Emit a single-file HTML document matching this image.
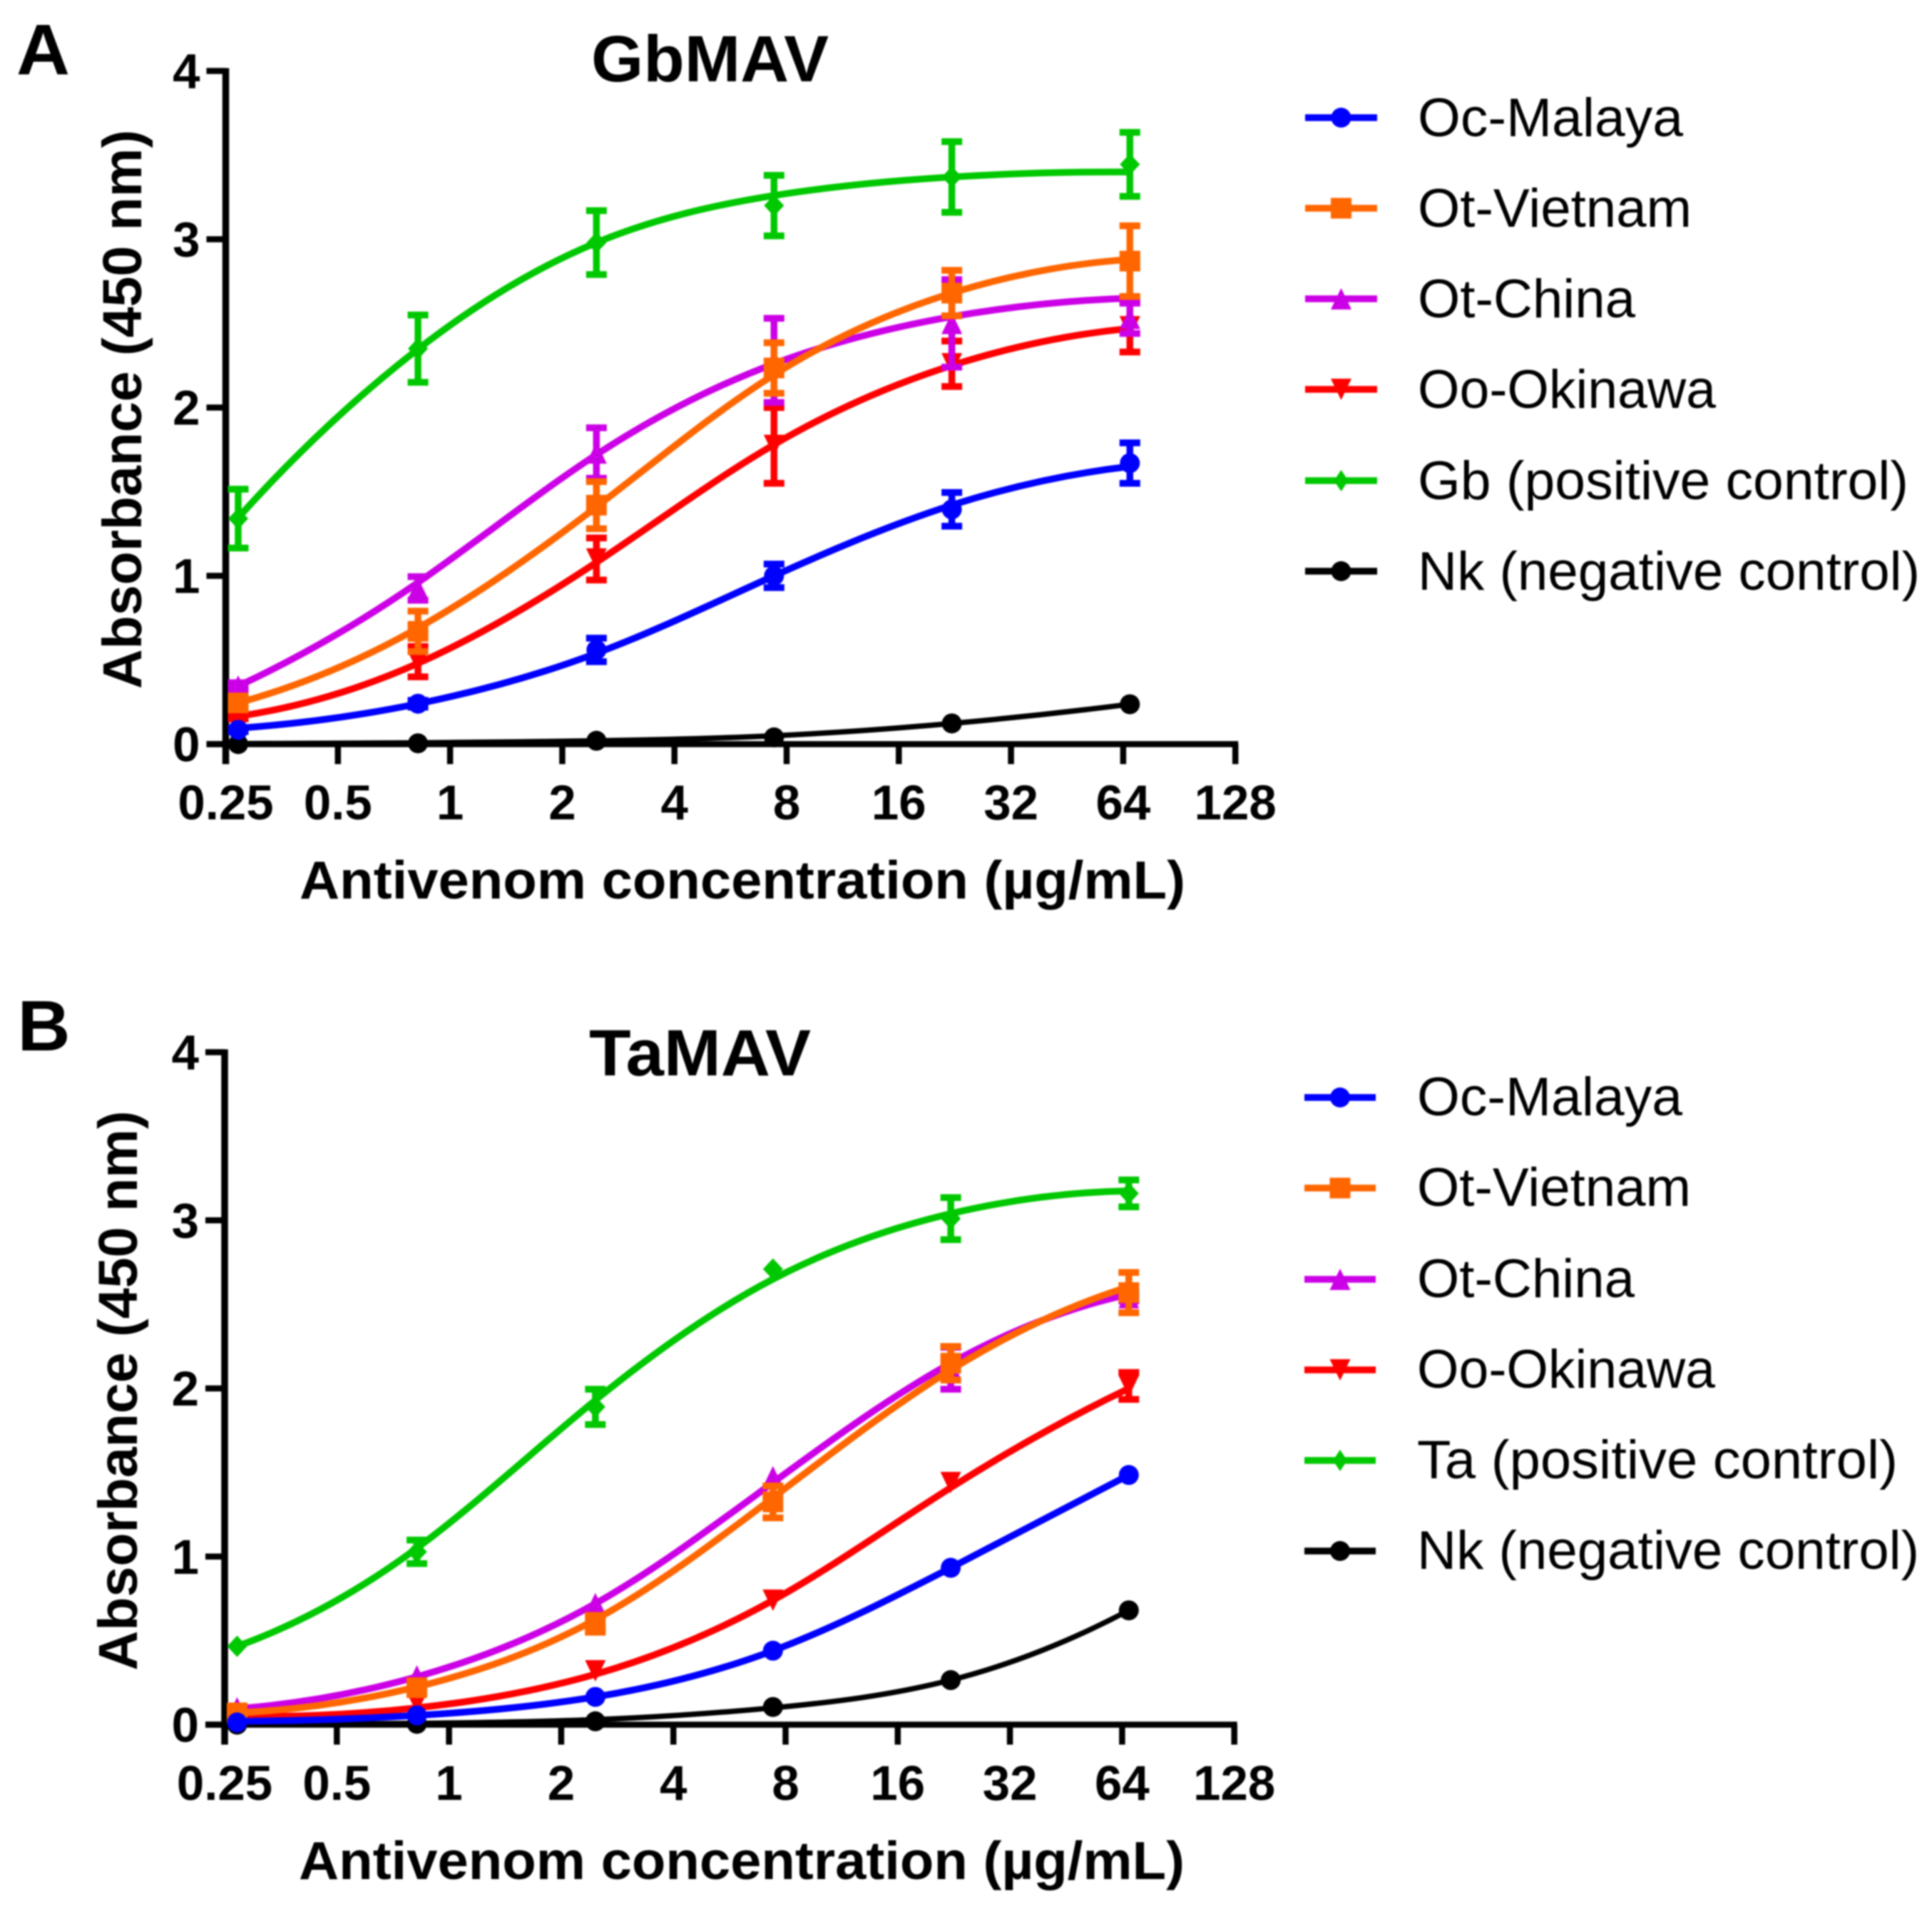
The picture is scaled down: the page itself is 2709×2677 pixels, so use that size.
<!DOCTYPE html>
<html lang="en">
<head>
<meta charset="utf-8">
<title>Antivenom binding to GbMAV and TaMAV</title>
<style>
  html, body { margin: 0; padding: 0; background: #fff; }
  svg { display: block; filter: blur(1px); font-family: "Liberation Sans", Arial, sans-serif; }
  .bold { font-weight: 700; fill: #000; }
  .leg { font-size: 76px; fill: #000; }
</style>
</head>
<body>
<svg id="figure" xmlns="http://www.w3.org/2000/svg" width="2709" height="2677" viewBox="0 0 2709 2677">
  <rect x="0" y="0" width="2709" height="2677" fill="#fff"/>

  <g id="panel-a">
    <text class="bold" x="23" y="104" font-size="100" textLength="75" lengthAdjust="spacingAndGlyphs">A</text>
    <text class="bold" x="829" y="114" font-size="92" textLength="333" lengthAdjust="spacingAndGlyphs">GbMAV</text>
    <text class="bold" transform="translate(198 574) rotate(-90)" text-anchor="middle" font-size="77" textLength="784" lengthAdjust="spacingAndGlyphs">Absorbance (450 nm)</text>
    <text class="bold" x="420" y="1260" font-size="75" textLength="1242" lengthAdjust="spacingAndGlyphs">Antivenom concentration (µg/mL)</text>
    <g>
      <text class="leg" x="1988" y="191" textLength="372" lengthAdjust="spacingAndGlyphs">Oc-Malaya</text>
      <text class="leg" x="1988" y="318" textLength="384" lengthAdjust="spacingAndGlyphs">Ot-Vietnam</text>
      <text class="leg" x="1988" y="445" textLength="305" lengthAdjust="spacingAndGlyphs">Ot-China</text>
      <text class="leg" x="1988" y="572" textLength="418" lengthAdjust="spacingAndGlyphs">Oo-Okinawa</text>
      <text class="leg" x="1988" y="700" textLength="688" lengthAdjust="spacingAndGlyphs">Gb (positive control)</text>
      <text class="leg" x="1988" y="827" textLength="704" lengthAdjust="spacingAndGlyphs">Nk (negative control)</text>
    </g>
  </g>

  <g id="panel-b">
    <text class="bold" x="24.5" y="1473" font-size="100" textLength="74" lengthAdjust="spacingAndGlyphs">B</text>
    <text class="bold" x="826" y="1508" font-size="92" textLength="311" lengthAdjust="spacingAndGlyphs">TaMAV</text>
    <text class="bold" transform="translate(192 1950) rotate(-90)" text-anchor="middle" font-size="77" textLength="785" lengthAdjust="spacingAndGlyphs">Absorbance (450 nm)</text>
    <text class="bold" x="419" y="2635" font-size="75" textLength="1242" lengthAdjust="spacingAndGlyphs">Antivenom concentration (µg/mL)</text>
    <g>
      <text class="leg" x="1987" y="1564" textLength="372" lengthAdjust="spacingAndGlyphs">Oc-Malaya</text>
      <text class="leg" x="1987" y="1691" textLength="384" lengthAdjust="spacingAndGlyphs">Ot-Vietnam</text>
      <text class="leg" x="1987" y="1819" textLength="305" lengthAdjust="spacingAndGlyphs">Ot-China</text>
      <text class="leg" x="1987" y="1946" textLength="418" lengthAdjust="spacingAndGlyphs">Oo-Okinawa</text>
      <text class="leg" x="1987" y="2073" textLength="674" lengthAdjust="spacingAndGlyphs">Ta (positive control)</text>
      <text class="leg" x="1987" y="2200" textLength="704" lengthAdjust="spacingAndGlyphs">Nk (negative control)</text>
    </g>
  </g>
</svg>

<script>
// ---- shared categories and tick labels ----
const concentrations = [0.27, 0.82, 2.47, 7.4, 22.2, 66.7];
const xTickLabels = ['0.25', '0.5', '1', '2', '4', '8', '16', '32', '64', '128'];
const xTickValues = [0.25, 0.5, 1, 2, 4, 8, 16, 32, 64, 128];
const yTickValues = [0, 1, 2, 3, 4];

// ---- Panel A (GbMAV) ----
const aOcMean = [0.085, 0.24, 0.56, 1.0, 1.395, 1.67];
const aOcFit  = [0.095, 0.24, 0.54, 1.0, 1.42, 1.65];
const aOcErr  = [0.01, 0.02, 0.07, 0.07, 0.10, 0.12];

const aVnMean = [0.245, 0.67, 1.42, 2.235, 2.68, 2.87];
const aVnFit  = [0.245, 0.69, 1.41, 2.195, 2.68, 2.88];
const aVnErr  = [0.03, 0.12, 0.14, 0.15, 0.135, 0.21];

const aCnMean = [0.345, 0.925, 1.73, 2.28, 2.5, 2.53];
const aCnFit  = [0.345, 0.96, 1.72, 2.26, 2.54, 2.65];
const aCnErr  = [0.02, 0.07, 0.15, 0.25, 0.26, 0.09];

const aOkMean = [0.17, 0.49, 1.1, 1.775, 2.26, 2.48];
const aOkFit  = [0.165, 0.48, 1.08, 1.78, 2.25, 2.47];
const aOkErr  = [0.02, 0.09, 0.125, 0.225, 0.135, 0.15];

const aPcMean = [1.34, 2.35, 2.98, 3.2, 3.37, 3.445];
const aPcFit  = [1.345, 2.347, 2.98, 3.26, 3.37, 3.40];
const aPcErr  = [0.175, 0.2, 0.19, 0.18, 0.21, 0.19];

const aNkMean = [0.0, 0.005, 0.02, 0.04, 0.123, 0.237];
const aNkFit  = [0.003, 0.008, 0.02, 0.05, 0.123, 0.237];
const aNkErr  = [0, 0, 0, 0, 0, 0];

// ---- Panel B (TaMAV) ----
const bOcMean = [0.013, 0.055, 0.165, 0.44, 0.933, 1.485];
const bOcFit  = [0.02, 0.055, 0.165, 0.44, 0.933, 1.485];
const bOcErr  = [0, 0, 0, 0, 0, 0];

const bVnMean = [0.07, 0.22, 0.6, 1.325, 2.15, 2.57];
const bVnFit  = [0.07, 0.225, 0.625, 1.35, 2.11, 2.605];
const bVnErr  = [0.01, 0.02, 0.05, 0.095, 0.1, 0.12];

const bCnMean = [0.1, 0.29, 0.72, 1.475, 2.12, 2.54];
const bCnFit  = [0.095, 0.285, 0.72, 1.44, 2.15, 2.56];
const bCnErr  = [0, 0, 0, 0, 0.125, 0.02];

const bOkMean = [0.06, 0.13, 0.32, 0.74, 1.44, 2.015];
const bOkFit  = [0.05, 0.1, 0.3, 0.74, 1.41, 2.0];
const bOkErr  = [0, 0, 0, 0, 0, 0.08];

const bPcMean = [0.466, 1.028, 1.89, 2.71, 3.01, 3.16];
const bPcFit  = [0.466, 1.05, 1.93, 2.65, 3.04, 3.175];
const bPcErr  = [0, 0.07, 0.105, 0, 0.125, 0.08];

const bNkMean = [0.0, 0.005, 0.02, 0.105, 0.265, 0.68];
const bNkFit  = [0.0, 0.008, 0.03, 0.1, 0.265, 0.68];
const bNkErr  = [0, 0, 0, 0, 0, 0];

// ---- styles (not data) ----
const styleOc = { key: 'oc-malaya', color: '#0000ff', shape: 'circle' };
const styleVn = { key: 'ot-vietnam', color: '#ff6600', shape: 'square' };
const styleCn = { key: 'ot-china', color: '#cc00e6', shape: 'triangle-up' };
const styleOk = { key: 'oo-okinawa', color: '#ff0000', shape: 'triangle-down' };
const stylePc = { key: 'positive-control', color: '#00c800', shape: 'diamond' };
const styleNk = { key: 'nk-negative-control', color: '#000000', shape: 'circle' };

const NS = 'http://www.w3.org/2000/svg';

function make(tag, attrs, parent) {
  const node = document.createElementNS(NS, tag);
  for (const k in attrs) node.setAttribute(k, attrs[k]);
  parent.appendChild(node);
  return node;
}

function makeScales(geom) {
  return {
    x: function (v) { return geom.x0 + Math.log2(v / 0.25) * geom.dx; },
    y: function (v) { return geom.y0 - v * geom.dy; }
  };
}

function drawShape(parent, shape, cx, cy, color, small) {
  const dw = small ? 10 : 14;
  let node;
  if (shape === 'circle') {
    node = make('circle', { cx: cx, cy: cy, r: 14, fill: color }, parent);
  } else if (shape === 'square') {
    node = make('rect', { x: cx - 14.5, y: cy - 14.5, width: 29, height: 29, fill: color }, parent);
  } else if (shape === 'triangle-up') {
    node = make('polygon', { points: (cx) + ',' + (cy - 15) + ' ' + (cx + 14.5) + ',' + (cy + 15) + ' ' + (cx - 14.5) + ',' + (cy + 15), fill: color }, parent);
  } else if (shape === 'triangle-down') {
    node = make('polygon', { points: (cx) + ',' + (cy + 15) + ' ' + (cx + 14.5) + ',' + (cy - 15) + ' ' + (cx - 14.5) + ',' + (cy - 15), fill: color }, parent);
  } else {
    node = make('polygon', { points: cx + ',' + (cy - 15) + ' ' + (cx + dw) + ',' + cy + ' ' + cx + ',' + (cy + 15) + ' ' + (cx - dw) + ',' + cy, fill: color }, parent);
  }
  return node;
}

// C2 cubic spline through the fit values (parabolic end conditions), emitted as Béziers
function curvePath(xs, ys) {
  const n = xs.length;
  const h = (xs[n - 1] - xs[0]) / (n - 1);
  const a = new Array(n).fill(1);
  const b = new Array(n).fill(4);
  const c = new Array(n).fill(1);
  const r = new Array(n).fill(0);
  for (let i = 1; i < n - 1; i++) r[i] = 3 * (ys[i + 1] - ys[i - 1]) / h;
  b[0] = 1; c[0] = 1; r[0] = 2 * (ys[1] - ys[0]) / h;
  a[n - 1] = 1; b[n - 1] = 1; r[n - 1] = 2 * (ys[n - 1] - ys[n - 2]) / h;
  for (let i = 1; i < n; i++) {
    const w = a[i] / b[i - 1];
    b[i] -= w * c[i - 1];
    r[i] -= w * r[i - 1];
  }
  const m = new Array(n);
  m[n - 1] = r[n - 1] / b[n - 1];
  for (let i = n - 2; i >= 0; i--) m[i] = (r[i] - c[i] * m[i + 1]) / b[i];
  let d = 'M' + xs[0].toFixed(2) + ' ' + ys[0].toFixed(2);
  for (let i = 0; i < n - 1; i++) {
    const t = (xs[i + 1] - xs[i]) / 3;
    d += ' C' + (xs[i] + t).toFixed(2) + ' ' + (ys[i] + m[i] * t).toFixed(2) +
         ' ' + (xs[i + 1] - t).toFixed(2) + ' ' + (ys[i + 1] - m[i + 1] * t).toFixed(2) +
         ' ' + xs[i + 1].toFixed(2) + ' ' + ys[i + 1].toFixed(2);
  }
  return d;
}

function drawAxes(parent, geom, scale) {
  const group = make('g', {}, parent);
  
  
  const top = scale.y(yTickValues[yTickValues.length - 1]);
  const right = scale.x(xTickValues[xTickValues.length - 1]);

  const yLine = make('line', { x1: geom.x0, x2: geom.x0, y1: top - 4, y2: geom.y0 + 28, stroke: '#000', 'stroke-width': 9.5 }, group);
  
  

  const xLine = make('line', { x1: geom.x0 - 27, x2: right + 4, y1: geom.y0, y2: geom.y0, stroke: '#000', 'stroke-width': 8.5 }, group);
  
  

  yTickValues.forEach(function (v) {
    const ty = scale.y(v);
    const tick = make('line', { x1: geom.x0 - 27, x2: geom.x0, y1: ty, y2: ty, stroke: '#000', 'stroke-width': 8.5 }, group);
    
    
    const label = make('text', { x: geom.x0 - 36, y: ty + 24, 'text-anchor': 'end', 'font-size': 69, 'font-weight': 700, fill: '#000' }, group);
    
    
    label.textContent = String(v);
  });

  xTickValues.forEach(function (v, i) {
    const tx = scale.x(v);
    const tick = make('line', { x1: tx, x2: tx, y1: geom.y0, y2: geom.y0 + 28, stroke: '#000', 'stroke-width': 8.5 }, group);
    
    
    const label = make('text', { x: tx, y: geom.labelY, 'text-anchor': 'middle', 'font-size': 69, 'font-weight': 700, fill: '#000' }, group);
    
    
    label.textContent = xTickLabels[i];
  });
}

function drawSeries(parent, style, mean, fit, err, scale) {
  const group = make('g', {}, parent);
  
  

  const xs = concentrations.map(scale.x);
  const ys = fit.map(scale.y);
  const line = make('path', { d: curvePath(xs, ys), fill: 'none', stroke: style.color, 'stroke-width': style.key === 'nk-negative-control' ? 7.5 : 9.5, 'stroke-linecap': 'round' }, group);
  
  

  concentrations.forEach(function (c, i) {
    const px = scale.x(c);
    const py = scale.y(mean[i]);
    if (err[i] > 0) {
      const hi = scale.y(mean[i] + err[i]);
      const lo = scale.y(mean[i] - err[i]);
      const bar = make('path', {
        d: 'M' + px + ' ' + hi + 'V' + lo + 'M' + (px - 14.5) + ' ' + hi + 'H' + (px + 14.5) + 'M' + (px - 14.5) + ' ' + lo + 'H' + (px + 14.5),
        fill: 'none', stroke: style.color, 'stroke-width': 9.5
      }, group);
      
      
    }
    const point = drawShape(group, style.shape, px, py, style.color, false);
    
    
  });
}

function drawLegendSwatches(parent, styles, x1, x2, rowYs) {
  styles.forEach(function (style, i) {
    const group = make('g', {}, parent);
    
    
    make('line', { x1: x1, x2: x2, y1: rowYs[i], y2: rowYs[i], stroke: style.color, 'stroke-width': 9.5 }, group);
    drawShape(group, style.shape, (x1 + x2) / 2, rowYs[i], style.color, true);
  });
}

function drawPanel(root, geom, rows) {
  const scale = makeScales(geom);
  drawAxes(root, geom, scale);
  rows.forEach(function (row) {
    drawSeries(root, row[0], row[1], row[2], row[3], scale);
  });
}

const panelA = document.getElementById('panel-a');
const panelB = document.getElementById('panel-b');

drawPanel(panelA, { x0: 316.5, dx: 157.3, y0: 1043.5, dy: 236, labelY: 1149 }, [
  [styleNk, aNkMean, aNkFit, aNkErr],
  [stylePc, aPcMean, aPcFit, aPcErr],
  [styleOk, aOkMean, aOkFit, aOkErr],
  [styleCn, aCnMean, aCnFit, aCnErr],
  [styleVn, aVnMean, aVnFit, aVnErr],
  [styleOc, aOcMean, aOcFit, aOcErr]
]);

drawPanel(panelB, { x0: 315, dx: 157.3, y0: 2418.5, dy: 235.75, labelY: 2524 }, [
  [styleNk, bNkMean, bNkFit, bNkErr],
  [stylePc, bPcMean, bPcFit, bPcErr],
  [styleOk, bOkMean, bOkFit, bOkErr],
  [styleCn, bCnMean, bCnFit, bCnErr],
  [styleVn, bVnMean, bVnFit, bVnErr],
  [styleOc, bOcMean, bOcFit, bOcErr]
]);

const legendOrder = [styleOc, styleVn, styleCn, styleOk, stylePc, styleNk];
drawLegendSwatches(panelA, legendOrder, 1830, 1931, [165, 292, 419, 546, 674, 801]);
drawLegendSwatches(panelB, legendOrder, 1829, 1929, [1539, 1666, 1794, 1921, 2048, 2175]);
</script>
</body>
</html>
